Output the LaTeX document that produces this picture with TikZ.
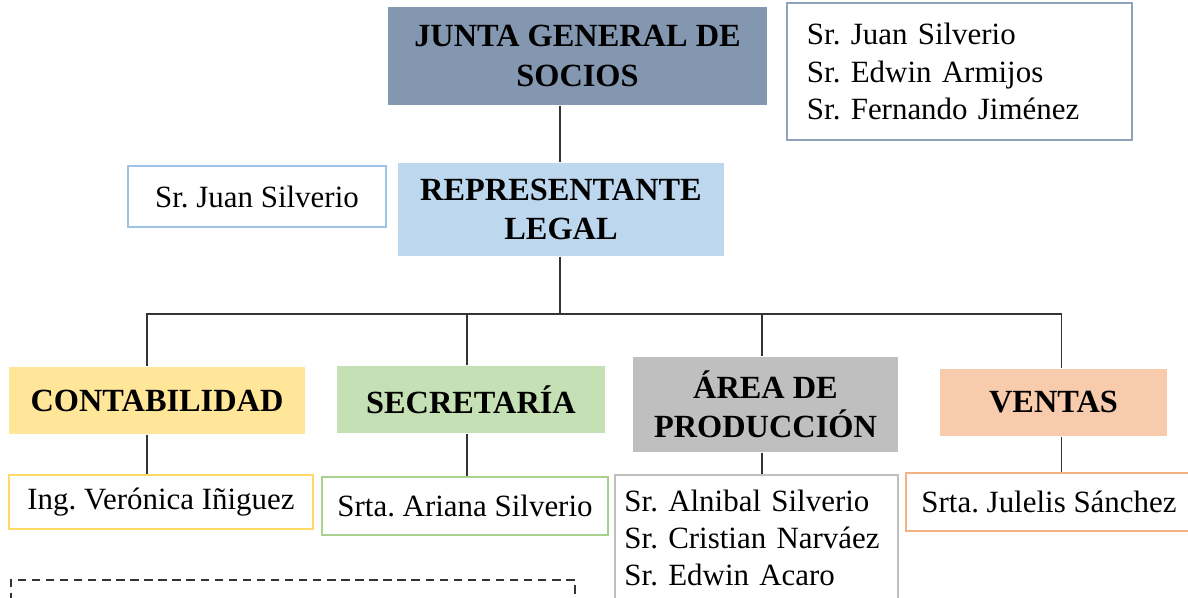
\documentclass[tikz,border=0pt]{standalone}
\usepackage{fontspec}
\setmainfont{Liberation Serif}
\frenchspacing
\definecolor{junta}{HTML}{8497B0}
\definecolor{bordejunta}{HTML}{8EA2BC}
\definecolor{repr}{HTML}{BDD7EE}
\definecolor{borderepr}{HTML}{9DC3E6}
\definecolor{conta}{HTML}{FFE699}
\definecolor{bordeconta}{HTML}{FFD966}
\definecolor{secre}{HTML}{C5E0B4}
\definecolor{bordesecre}{HTML}{A9D18E}
\definecolor{area}{HTML}{BFBFBF}
\definecolor{ventas}{HTML}{F8CBAD}
\definecolor{bordeventas}{HTML}{F4B183}
\begin{document}
\begin{tikzpicture}[x=0.0125cm, y=-0.0125cm, line width=0.5pt,
  cargo/.style={rectangle, inner sep=0pt, align=center, text=black,
    font=\fontsize{11.5}{14}\selectfont\bfseries},
  persona/.style={rectangle, draw, inner sep=0pt, text=black,
    font=\fontsize{11}{13.2}\selectfont},
  lista/.style={persona, align=left, inner xsep=0.25cm},
  linea/.style={draw=black!80, line width=0.6pt}]
\clip (0,0) rectangle (1188,597);
% Nodos
\node [cargo, fill=junta, minimum width=4.7375cm, minimum height=1.225cm] (junta) at (577.5,56) {JUNTA GENERAL DE\\SOCIOS};
\node [lista, draw=bordejunta, text width=3.8125cm, minimum height=1.7125cm] (socios) at (959.5,71.5) {Sr. Juan Silverio\\Sr. Edwin Armijos\\Sr. Fernando Jiménez};
\node [cargo, fill=repr, minimum width=4.075cm, minimum height=1.1625cm] (repr) at (561,209.5) {REPRESENTANTE\\LEGAL};
\node [persona, draw=borderepr, minimum width=3.225cm, minimum height=0.7625cm] (juan) at (257,196.5) {Sr. Juan Silverio};
\node [cargo, fill=conta, minimum width=3.7cm, minimum height=0.8375cm] (conta) at (157,400.5) {CONTABILIDAD};
\node [cargo, fill=secre, minimum width=3.35cm, minimum height=0.8375cm] (secre) at (471,399.5) {SECRETARÍA};
\node [cargo, fill=area, minimum width=3.3125cm, minimum height=1.1875cm] (area) at (765.5,404.5) {ÁREA DE\\PRODUCCIÓN};
\node [cargo, fill=ventas, minimum width=2.8375cm, minimum height=0.8375cm] (ventas) at (1053.5,402.5) {VENTAS};
\node [persona, draw=bordeconta, minimum width=3.8cm, minimum height=0.675cm] (vero) at (161,502) {Ing. Verónica Iñiguez};
\node [persona, draw=bordesecre, minimum width=3.575cm, minimum height=0.725cm] (ariana) at (465,506) {Srta. Ariana Silverio};
\node [lista, draw=area, inner xsep=0.12cm, text width=3.3cm, minimum height=1.575cm] (operarios) at (756.5,538) {Sr. Alnibal Silverio\\Sr. Cristian Narváez\\Sr. Edwin Acaro};
\node [persona, draw=bordeventas, minimum width=3.575cm, minimum height=0.725cm] (julelis) at (1049,502) {Srta. Julelis Sánchez};
\node [draw=black!80, dash pattern=on 3pt off 2pt, minimum width=7.05cm, minimum height=0.5cm] (nota) at (293,600) {};
% Ejes
\coordinate (barra) at (560,314);
\coordinate (c1) at ([xshift=-0.125cm]conta.north);
\coordinate (c2) at ([xshift=-0.05cm]secre.north);
\coordinate (c3) at ([xshift=-0.04cm]area.north);
\coordinate (c4) at ([xshift=0.1cm]ventas.north);
\path [linea] (junta.south -| barra) -- (repr.north -| barra);
\path [linea] (repr.south -| barra) -- (barra);
\path [linea] (c1) -- (c1 |- barra) -- (c4 |- barra) -- (c4);
\path [linea] (c2) -- (c2 |- barra);
\path [linea] (c3) -- (c3 |- barra);
\path [linea] (c1 |- conta.south) -- (c1 |- vero.north);
\path [linea] (c2 |- secre.south) -- (c2 |- ariana.north);
\path [linea] (c3 |- area.south) -- (c3 |- operarios.north);
\path [linea] (c4 |- ventas.south) -- (c4 |- julelis.north);
\end{tikzpicture}
\end{document}
